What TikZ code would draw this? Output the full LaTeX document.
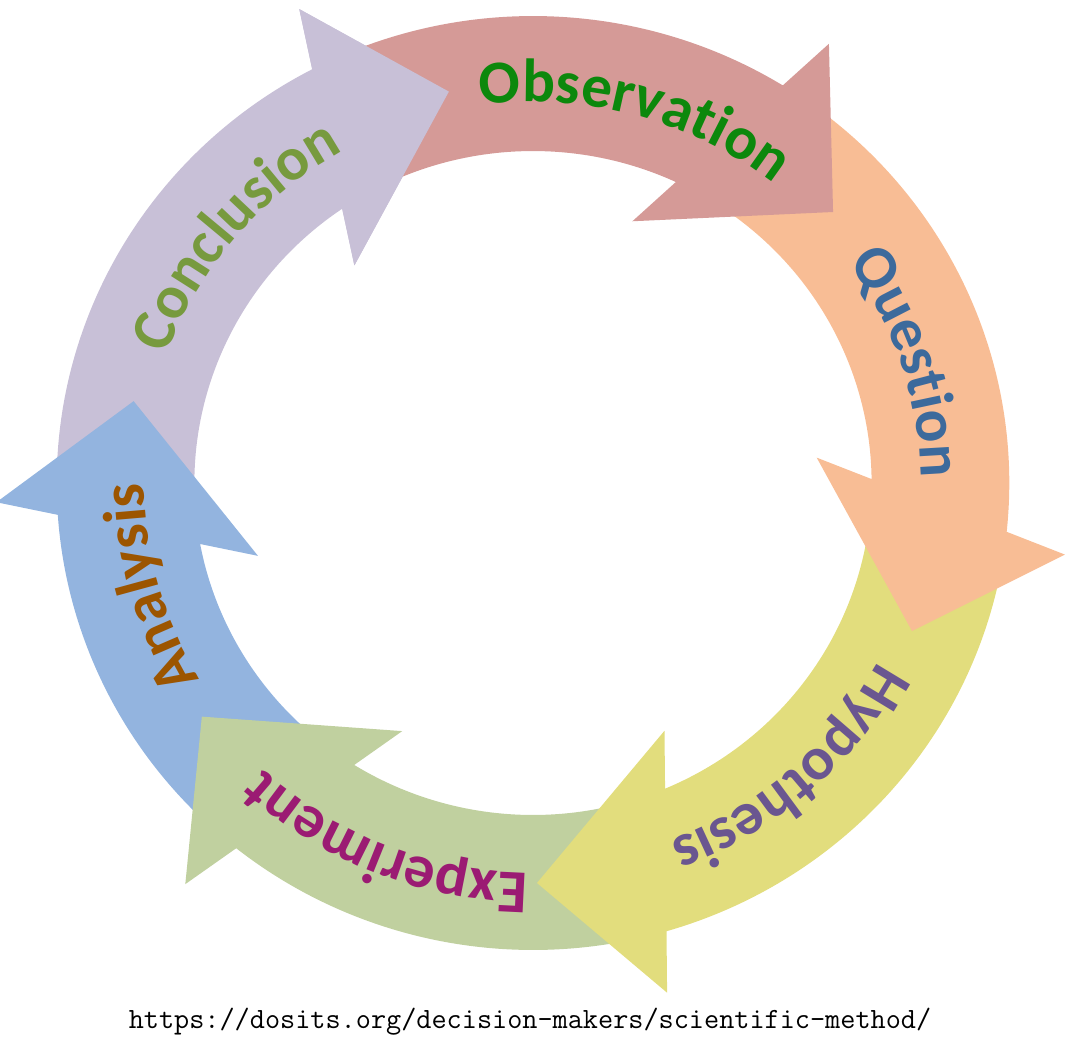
\documentclass[tikz,border=0pt]{standalone}
\usepackage{fontspec}
\setmainfont{Carlito}
\usetikzlibrary{decorations.text}
\definecolor{obsF}{RGB}{213,154,151}
\definecolor{obsT}{RGB}{12,136,12}
\definecolor{queF}{RGB}{248,189,149}
\definecolor{queT}{RGB}{60,106,156}
\definecolor{hypF}{RGB}{226,221,125}
\definecolor{hypT}{RGB}{106,86,144}
\definecolor{expF}{RGB}{192,208,159}
\definecolor{expT}{RGB}{155,27,115}
\definecolor{anaF}{RGB}{147,180,223}
\definecolor{anaT}{RGB}{156,85,0}
\definecolor{conF}{RGB}{200,192,215}
\definecolor{conT}{RGB}{119,154,62}
\newcommand\lblfont{\fontsize{61}{61}\selectfont\bfseries}
% #1 tip angle, #2 tail angle (relative to tip), #3 colour
\newcommand\ringarrow[3]{%
  \begin{scope}[rotate=#1]
    \fill[#3] (#2:467) arc[start angle=#2, end angle=15.72, radius=467]
      -- (511,126.5) -- (400,0) -- (249,126.5) -- (22.4:332)
      arc[start angle=22.4, end angle=#2, radius=332] -- cycle;
  \end{scope}}
\newcommand\ringhead[2]{%
  \begin{scope}[rotate=#1]
    \fill[#2] (511,126.5) -- (400,0) -- (249,126.5) -- cycle;
  \end{scope}}
% #1 centre angle, #2 baseline radius, #3 colour, #4 text
\newcommand\ringlabel[4]{%
  \path[decorate,decoration={text along path,text align=center,
      text={|\lblfont\color{#3}|#4}}]
    (#1+45:#2) arc[start angle=#1+45, end angle=#1-45, radius=#2];}
\begin{document}
\begin{tikzpicture}[x=1pt,y=1pt]
\useasboundingbox (-533,-567) rectangle (537,483);
\begin{scope}[xscale=1.02]
  \ringarrow{101.9}{79.29}{conF}
  \ringarrow{168.19}{60.55}{anaF}
  \ringarrow{-144.26}{67.82}{expF}
  \ringarrow{-89.44}{80.72}{hypF}
  \ringarrow{-21.72}{77.37}{queF}
  \ringarrow{42.65}{72.25}{obsF}
  \ringhead{101.9}{conF}
  \ringlabel{74.6}{381}{obsT}{Observation}
  \ringlabel{18}{380}{queT}{Question}
  \ringlabel{-48.4}{382}{hypT}{Hypothesis}
  \ringlabel{-111.9}{390}{expT}{Experiment}
  \ringlabel{195.4}{381}{anaT}{Analysis}
  \ringlabel{140}{381}{conT}{Conclusion}
\end{scope}
\node[anchor=base, inner sep=0pt, font=\ttfamily\fontsize{29.4}{29.4}\selectfont] (url) at (-3,-545) {https://dosits.org/decision-makers/scientific-method/};
\end{tikzpicture}
\end{document}
